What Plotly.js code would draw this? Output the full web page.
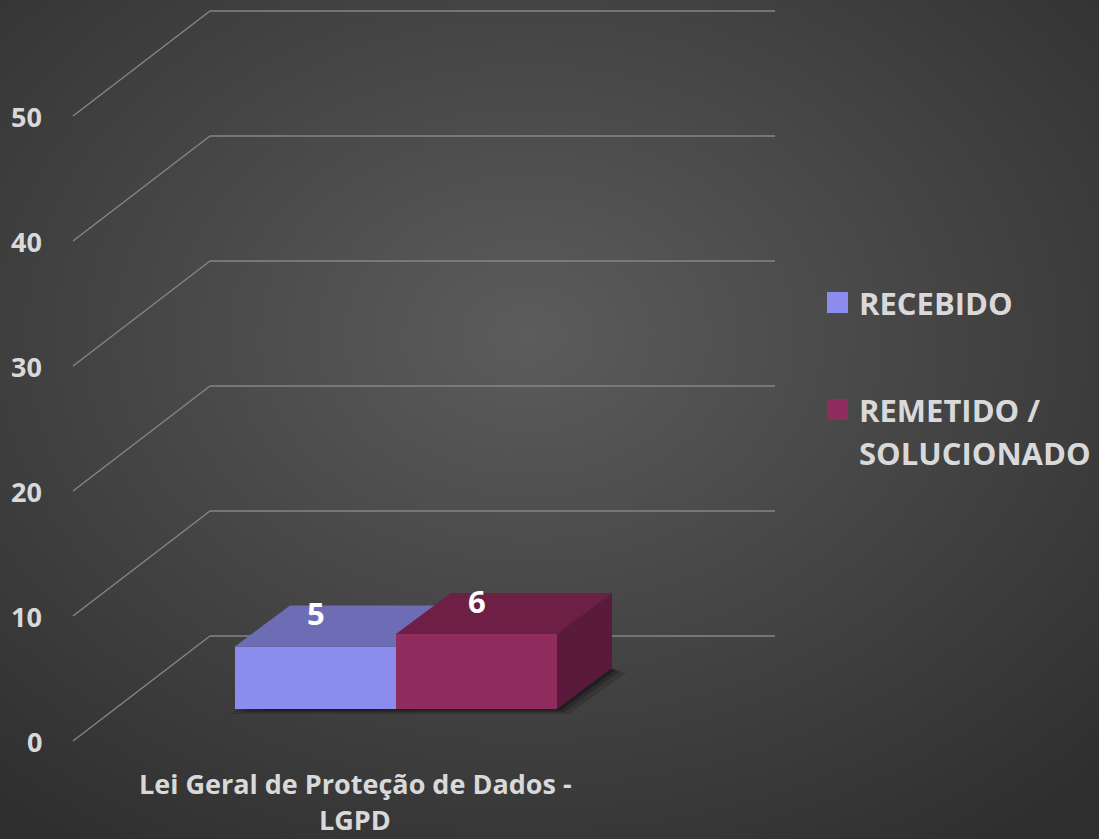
<!DOCTYPE html>
<html>
<head>
<meta charset="utf-8">
<script src="https://cdn.plot.ly/plotly-3.0.1.min.js"></script>
<style>
  html, body { margin: 0; padding: 0; }
  body {
    width: 1099px; height: 839px; overflow: hidden;
    background: radial-gradient(ellipse 75% 75% at 48% 40%, #5c5c5c 0%, #474747 45%, #2e2e2e 100%);
  }
  #chart { width: 1099px; height: 839px; }
</style>
</head>
<body>
<div id="chart"></div>
<script>
// ---- data ----
const categories = ["Lei Geral de Proteção de Dados -", "LGPD"]; // one category, two label lines
const seriesNames = ["RECEBIDO", "REMETIDO /", "SOLUCIONADO"];
const recebido = [5];
const remetido = [6];
const yTicks = [0, 10, 20, 30, 40, 50];
const yTickText = ["0", "10", "20", "30", "40", "50"];

// ---- styles / layout geometry ----
const frontColors = ["#8c8cee", "#8f2d5e"];
const topColors = ["#6d6db6", "#6e1f46"];
const sideColors = ["#5a5aa0", "#5a1a3b"];
const txt = "#d9d9d9";
const fontFam = "'Open Sans', 'Noto Sans', sans-serif";
const groupCenter = 396, barW = 161;
const depthX = 55, depthV = 3.28;   // oblique depth offset (x units, value units)
const backOff = 5.84, frontOff = -2.56;
const wallX0 = 210, wallX1 = 775, diagX0 = 73;

const series = [recebido, remetido];
const traces = [];
const shapes = [];
const annotations = [];

// gridlines: back wall + floor/side diagonals
yTicks.forEach(v => {
  shapes.push({type: 'line', xref: 'x', yref: 'y', layer: 'below',
    x0: wallX0, x1: wallX1, y0: v + backOff, y1: v + backOff,
    line: {color: '#868686', width: 1.4}});
  shapes.push({type: 'line', xref: 'x', yref: 'y', layer: 'below',
    x0: diagX0, x1: wallX0, y0: v + frontOff, y1: v + backOff,
    line: {color: '#868686', width: 1.4}});
});
yTicks.forEach((v, i) => {
  annotations.push({x: 44, y: v + frontOff, xref: 'x', yref: 'y', xanchor: 'right', yanchor: 'middle',
    text: '<b>' + yTickText[i] + '</b>', showarrow: false, font: {family: fontFam, size: 27, color: txt}});
});

// floor shadow under the boxes (drawn below the bars)
const gx0 = groupCenter - barW, gx1 = groupCenter + barW;
[[10, 0.16], [6, 0.2], [3, 0.28]].forEach(([g, a]) => {
  const p = [[gx0 - g, -g / 25], [gx1 + g * 1.2, -g / 25], [gx1 + depthX + g * 1.4, depthV - g / 25], [gx1 + depthX - g, depthV]];
  shapes.push({type: 'path', xref: 'x', yref: 'y', layer: 'below',
    path: 'M' + p.map(q => q[0] + ',' + q[1]).join('L') + 'Z',
    fillcolor: 'rgba(0,0,0,' + a + ')', line: {width: 0}});
});

// front faces as bars
series.forEach((vals, i) => {
  const c = groupCenter + (i - 0.5) * barW;
  traces.push({type: 'bar', x: [c], y: vals, width: [barW], base: 0,
    marker: {color: frontColors[i], line: {width: 0}}, hoverinfo: 'skip', showlegend: false});
});

// top and side faces
series.forEach((vals, i) => {
  const v = vals[0];
  const c = groupCenter + (i - 0.5) * barW;
  const x0 = c - barW / 2, x1 = c + barW / 2;
  const next = series[i + 1] ? series[i + 1][0] : null;
  let tx, ty;
  if (next !== null && next > v) {
    const t = Math.min(1, (next - v) / depthV);
    tx = [x0, x1, x1, x1 + t * depthX, x1 + depthX, x0 + depthX];
    ty = [v, v, next, v + t * depthV, v + depthV, v + depthV];
  } else {
    tx = [x0, x1, x1 + depthX, x0 + depthX];
    ty = [v, v, v + depthV, v + depthV];
  }
  traces.push({type: 'scatter', mode: 'lines', fill: 'toself', hoverinfo: 'skip', showlegend: false,
    x: tx, y: ty, fillcolor: topColors[i], line: {width: 0}});
  if (next === null || next < v) {
    traces.push({type: 'scatter', mode: 'lines', fill: 'toself', hoverinfo: 'skip', showlegend: false,
      x: [x1, x1, x1 + depthX, x1 + depthX], y: [0, v, v + depthV, depthV],
      fillcolor: sideColors[i], line: {width: 0}});
  }
  annotations.push({x: c, y: v + 2.65, xref: 'x', yref: 'y', text: '<b>' + v + '</b>', showarrow: false,
    xanchor: 'center', yanchor: 'middle', font: {family: fontFam, size: 31, color: '#ffffff'}});
});

// category label
annotations.push({x: 355, y: -5.95, xref: 'x', yref: 'y', text: '<b>' + categories[0] + '</b>', showarrow: false,
  xanchor: 'center', yanchor: 'middle', font: {family: fontFam, size: 27, color: txt}});
annotations.push({x: 355, y: -8.8, xref: 'x', yref: 'y', text: '<b>' + categories[1] + '</b>', showarrow: false,
  xanchor: 'center', yanchor: 'middle', borderpad: 0, font: {family: fontFam, size: 27, color: txt}});

// legend
const legY = [32.52, 23.96];
[0, 1].forEach(i => {
  shapes.push({type: 'rect', xref: 'x', yref: 'y', x0: 827, x1: 848, y0: legY[i] - 0.84, y1: legY[i] + 0.84,
    fillcolor: frontColors[i], line: {width: 0}});
});
annotations.push({x: 857, y: legY[0], xref: 'x', yref: 'y', text: '<b>' + seriesNames[0] + '</b>', showarrow: false,
  xanchor: 'left', yanchor: 'middle', font: {family: fontFam, size: 31, color: txt}});
annotations.push({x: 857, y: legY[1], xref: 'x', yref: 'y', text: '<b>' + seriesNames[1] + '</b>', showarrow: false,
  xanchor: 'left', yanchor: 'middle', font: {family: fontFam, size: 31, color: txt}});
annotations.push({x: 857, y: legY[1] - 3.5, xref: 'x', yref: 'y', text: '<b>' + seriesNames[2] + '</b>', showarrow: false,
  xanchor: 'left', yanchor: 'middle', font: {family: fontFam, size: 31, color: txt}});

const layout = {
  width: 1099, height: 839,
  margin: {l: 0, r: 0, t: 0, b: 0},
  paper_bgcolor: 'rgba(0,0,0,0)', plot_bgcolor: 'rgba(0,0,0,0)',
  barmode: 'overlay',
  showlegend: false,
  xaxis: {range: [0, 1099], visible: false, fixedrange: true},
  yaxis: {range: [-10.4, 56.72], visible: false, fixedrange: true},
  shapes: shapes,
  annotations: annotations
};
Plotly.newPlot('chart', traces, layout, {staticPlot: true, displayModeBar: false});
</script>
</body>
</html>
